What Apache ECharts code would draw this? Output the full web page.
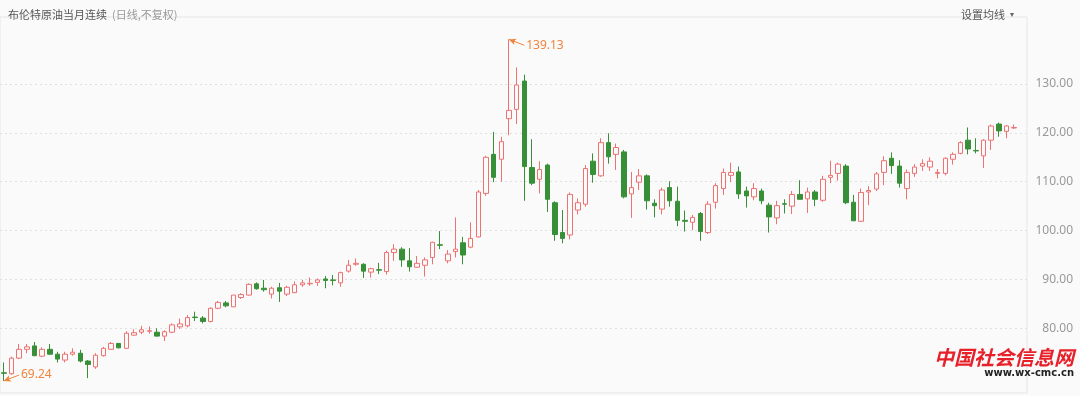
<!DOCTYPE html>
<html>
<head>
<meta charset="utf-8">
<script src="https://cdn.jsdelivr.net/npm/echarts@6/dist/echarts.min.js"></script>
<style>
html,body{margin:0;padding:0;background:#fafafa;}
#c{width:1080px;height:396px;}
</style>
</head>
<body>
<div id="c"></div>
<script>
// ---- data ----
var opens  = [70.9,70.7,73.9,75.7,76.4,74.3,75.7,74.7,73.5,74.7,74.9,73.3,72.1,74.4,75.7,76.9,75.9,78.6,79.2,79.4,79.2,78.4,79.2,80.3,80.5,82.3,82.1,81.4,84.1,85.2,84.4,86.3,86.8,89.1,88.2,87.0,88.3,87.0,87.3,88.9,89.1,89.4,90.1,89.9,89.3,91.7,93.1,93.1,91.5,92.0,91.6,95.5,96.2,93.8,92.5,92.9,94.5,97.1,93.8,95.7,97.5,96.6,98.7,107.6,115.6,114.6,122.9,124.8,130.6,112.9,110.5,113.4,105.7,99.6,99.1,104.2,105.4,114.2,111.2,118.0,115.6,116.1,107.5,109.9,111.2,105.6,104.4,108.8,106.0,102.1,101.7,103.5,99.6,105.8,108.6,111.3,112.0,108.1,106.9,108.1,105.2,102.6,105.5,105.0,107.4,106.5,107.9,106.2,110.9,111.7,113.2,105.8,101.9,107.9,108.5,111.9,114.8,113.2,108.6,111.7,113.2,113.0,111.7,111.7,114.6,115.8,118.5,116.4,115.3,118.5,121.8,120.3,121.0];
var closes = [70.8,73.9,75.7,76.2,74.4,75.7,74.7,73.7,74.7,75.1,73.3,72.6,74.5,75.9,76.9,76.0,79.0,79.1,79.7,79.5,78.4,79.3,80.7,80.9,82.2,82.2,81.4,84.1,85.3,84.6,86.8,86.9,89.0,88.1,87.9,88.2,87.6,88.4,88.9,89.3,89.2,89.9,89.8,89.8,91.4,92.9,93.3,91.7,92.2,91.9,95.5,96.2,94.0,92.6,93.3,94.0,97.6,97.0,95.2,96.2,95.0,98.4,107.9,115.0,110.9,118.2,124.6,129.8,113.1,109.7,112.5,106.4,99.2,98.4,107.4,105.7,112.7,111.5,118.0,115.1,117.0,106.9,108.8,111.2,106.1,105.1,108.3,106.1,102.1,101.9,102.7,99.8,105.4,109.2,111.9,111.9,107.5,107.1,108.6,106.1,102.8,105.1,105.4,107.4,106.4,107.9,106.4,110.5,111.3,113.6,105.7,102.0,107.8,108.2,111.6,114.3,113.3,109.7,111.9,113.0,113.7,114.2,111.9,114.8,115.6,118.0,116.7,116.3,118.5,121.4,120.4,121.4,121.1];
var lows   = [69.24,70.5,73.7,74.9,74.3,74.1,74.6,73.0,73.0,74.4,73.0,69.8,71.7,74.2,75.6,75.9,75.8,78.5,78.8,78.9,78.3,77.4,79.0,79.9,80.2,81.5,81.0,81.2,83.9,84.3,84.4,86.0,86.7,87.9,87.5,86.1,85.4,86.6,87.2,88.5,88.7,88.7,88.2,88.8,88.5,91.4,92.8,90.3,90.4,91.1,91.0,93.8,92.6,91.6,92.4,90.6,93.1,96.2,93.3,94.5,93.1,96.4,98.6,107.1,109.9,110.0,119.5,121.8,106.1,109.3,107.6,103.8,97.9,97.4,98.2,103.3,104.9,109.8,111.0,113.7,112.4,106.6,102.6,108.3,104.3,102.7,103.3,104.9,100.9,99.8,100.1,97.9,99.3,104.5,107.3,109.9,106.5,104.7,106.2,105.4,99.6,101.3,103.5,103.4,106.4,103.6,105.0,105.9,109.7,110.2,105.4,102.0,101.8,105.2,108.1,109.3,111.6,108.8,106.4,111.0,112.2,112.2,110.7,111.3,113.5,115.6,115.6,115.8,112.8,116.5,119.2,118.9,120.8];
var highs  = [73.0,74.2,76.8,76.8,77.2,76.1,76.8,75.2,75.2,75.9,75.6,73.5,74.9,76.2,77.2,77.0,79.4,79.8,80.5,80.4,80.0,79.6,81.0,82.0,82.7,83.4,82.5,84.3,85.6,85.6,86.8,87.2,89.2,89.4,89.9,88.5,89.3,88.7,89.6,89.9,90.4,90.2,90.7,90.9,91.6,94.0,94.3,93.3,92.4,93.4,95.9,97.2,96.6,96.4,94.8,94.5,97.7,99.9,96.0,102.7,98.7,101.7,108.3,115.3,120.2,119.2,139.13,133.4,131.9,118.7,114.2,113.7,106.0,104.2,107.8,106.6,113.4,115.8,118.9,119.9,117.8,116.5,112.0,112.6,111.5,106.4,108.8,110.1,109.0,104.1,103.2,103.8,106.0,109.7,112.7,113.9,113.1,109.0,109.7,108.6,105.7,106.1,106.4,108.1,110.3,108.8,108.3,111.2,114.3,113.9,113.6,107.3,108.6,109.1,112.0,115.2,116.0,114.4,112.5,113.6,114.6,115.0,112.6,115.0,116.0,118.3,121.1,118.9,118.7,121.7,122.1,121.6,121.7];
var categories = opens.map(function(_, i){ return String(i + 1); });
var yTicks = [80, 90, 100, 110, 120, 130];

var titleMain = '布伦特原油当月连续';
var titleSub = '(日线,不复权)';
var maButton = '设置均线';

// ---- derived ----
var kData = opens.map(function(o, i){ return [o, closes[i], lows[i], highs[i]]; });
var maxHigh = Math.max.apply(null, highs);
var minLow = Math.min.apply(null, lows);
var iMax = highs.indexOf(maxHigh);
var iMin = lows.indexOf(minLow);

var Y_MIN = 66.76, Y_MAX = 143.71;
var annoColor = '#f0843c';

var chart = echarts.init(document.getElementById('c'), null, {renderer: 'canvas'});
chart.setOption({
  animation: false,
  backgroundColor: '#fafafa',
  title: [
    {
      text: '{a|' + titleMain + '} {b|' + titleSub + '}',
      left: 3, top: 1,
      textStyle: {
        fontWeight: 'normal',
        rich: {
          a: {fontSize: 11, color: '#555', fontWeight: 'normal', fontFamily: 'Noto Sans CJK SC'},
          b: {fontSize: 11, color: '#999', fontWeight: 'normal', fontFamily: 'Noto Sans CJK SC'}
        }
      }
    },
    {
      text: '{a|' + maButton + '} {b|▾}',
      right: 61, top: 1,
      textStyle: {
        fontWeight: 'normal',
        rich: {
          a: {fontSize: 11, color: '#555', fontWeight: 'normal', fontFamily: 'Noto Sans CJK SC'},
          b: {fontSize: 8, color: '#666', fontWeight: 'normal'}
        }
      }
    }
  ],
  grid: [
    {left: 0, top: 17, width: 1018, bottom: 3, containLabel: false},
    {left: -1, top: 17, right: 53, bottom: 3, show: true, borderColor: '#e6e6e6', borderWidth: 1, backgroundColor: 'transparent'}
  ],
  xAxis: [
    {type: 'category', gridIndex: 0, data: categories, boundaryGap: true, show: false},
    {type: 'value', gridIndex: 1, min: 0, max: 1, show: false}
  ],
  yAxis: [
    {type: 'value', gridIndex: 0, min: Y_MIN, max: Y_MAX, show: false, scale: true},
    {
      type: 'value', gridIndex: 1, min: Y_MIN, max: Y_MAX, position: 'right',
      axisLine: {show: false},
      axisTick: {show: false, customValues: yTicks},
      axisLabel: {
        customValues: yTicks, align: 'right', margin: 46, color: '#999', fontSize: 12,
        fontFamily: 'Noto Sans',
        formatter: function(v){ return v.toFixed(2); }
      },
      splitLine: {show: true, lineStyle: {color: '#e0e0e0', type: [2, 3], width: 1}}
    }
  ],
  series: [
    {
      type: 'candlestick',
      xAxisIndex: 0, yAxisIndex: 0,
      data: kData,
      barWidth: 5,
      clip: false,
      itemStyle: {
        color: '#fafafa',
        color0: '#379037',
        borderColor: '#ef7272',
        borderColor0: '#379037',
        borderWidth: 1
      },
      markLine: {
        silent: true,
        symbol: ['arrow', 'none'],
        symbolSize: [5, 7],
        lineStyle: {color: annoColor, width: 1, type: 'solid'},
        label: {
          show: true, position: 'end', color: annoColor, fontSize: 12,
          fontFamily: 'Noto Sans', distance: 2
        },
        data: [
          [
            {coord: [categories[iMax], maxHigh], label: {formatter: maxHigh.toFixed(2)}},
            {coord: [categories[iMax + 2], maxHigh - 1.2], label: {formatter: maxHigh.toFixed(2)}}
          ],
          [
            {coord: [categories[iMin], minLow], label: {formatter: minLow.toFixed(2)}},
            {coord: [categories[iMin + 2], minLow + 1.2], label: {formatter: minLow.toFixed(2)}}
          ]
        ]
      }
    }
  ],
  graphic: [
    {
      type: 'text', right: 6, top: 347,
      style: {text: '中国社会信息网', fill: '#e8202a', font: 'italic bold 20px "Noto Sans CJK SC"'}
    },
    {
      type: 'text', right: 6, top: 368,
      style: {text: 'www.wx-cmc.cn', fill: '#222', font: 'bold 10px "DejaVu Sans"'}
    }
  ]
});
</script>
</body>
</html>
